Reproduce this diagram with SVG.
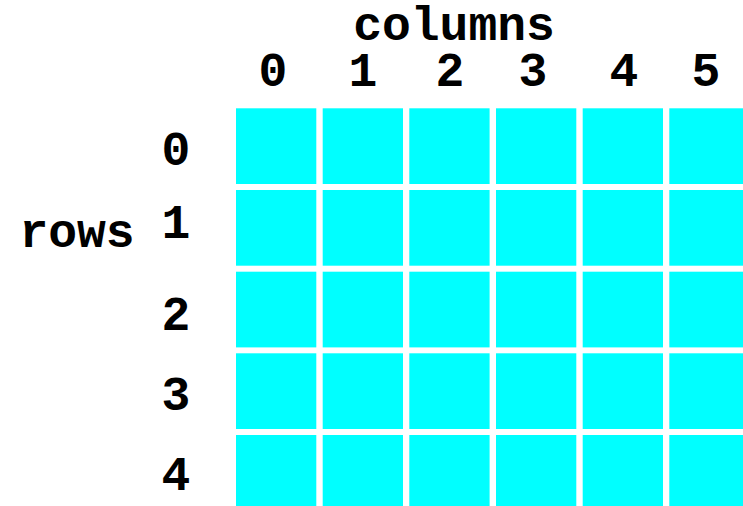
<svg xmlns="http://www.w3.org/2000/svg" width="743" height="506" viewBox="0 0 743 506">
<style>
.t{font-family:"Liberation Mono","Courier New",monospace;font-weight:bold;font-size:48px;fill:#000}
.c{fill:#00ffff}
</style>
<rect width="743" height="506" fill="#fff"/>
<g id="labels">
<text class="t" x="454" y="40" text-anchor="middle">columns</text>
<text class="t" x="273" y="86" text-anchor="middle">0</text>
<text class="t" x="363" y="86" text-anchor="middle">1</text>
<text class="t" x="450" y="86" text-anchor="middle">2</text>
<text class="t" x="533" y="86" text-anchor="middle">3</text>
<text class="t" x="624" y="86" text-anchor="middle">4</text>
<text class="t" x="706" y="86" text-anchor="middle">5</text>
<text class="t" x="77" y="247" text-anchor="middle">rows</text>
<text class="t" x="176" y="165" text-anchor="middle">0</text>
<text class="t" x="176" y="238" text-anchor="middle">1</text>
<text class="t" x="176" y="330" text-anchor="middle">2</text>
<text class="t" x="176" y="410" text-anchor="middle">3</text>
<text class="t" x="176" y="490" text-anchor="middle">4</text>
</g>
<g id="grid">
<g id="row0">
<rect class="c" x="236" y="108.3" width="80.3" height="75.7"/>
<rect class="c" x="322.7" y="108.3" width="80.3" height="75.7"/>
<rect class="c" x="409.3" y="108.3" width="80.3" height="75.7"/>
<rect class="c" x="496" y="108.3" width="80.3" height="75.7"/>
<rect class="c" x="582.7" y="108.3" width="80.3" height="75.7"/>
<rect class="c" x="669.3" y="108.3" width="80.3" height="75.7"/>
</g>
<g id="row1">
<rect class="c" x="236" y="190" width="80.3" height="75.7"/>
<rect class="c" x="322.7" y="190" width="80.3" height="75.7"/>
<rect class="c" x="409.3" y="190" width="80.3" height="75.7"/>
<rect class="c" x="496" y="190" width="80.3" height="75.7"/>
<rect class="c" x="582.7" y="190" width="80.3" height="75.7"/>
<rect class="c" x="669.3" y="190" width="80.3" height="75.7"/>
</g>
<g id="row2">
<rect class="c" x="236" y="271.7" width="80.3" height="75.7"/>
<rect class="c" x="322.7" y="271.7" width="80.3" height="75.7"/>
<rect class="c" x="409.3" y="271.7" width="80.3" height="75.7"/>
<rect class="c" x="496" y="271.7" width="80.3" height="75.7"/>
<rect class="c" x="582.7" y="271.7" width="80.3" height="75.7"/>
<rect class="c" x="669.3" y="271.7" width="80.3" height="75.7"/>
</g>
<g id="row3">
<rect class="c" x="236" y="353.3" width="80.3" height="75.7"/>
<rect class="c" x="322.7" y="353.3" width="80.3" height="75.7"/>
<rect class="c" x="409.3" y="353.3" width="80.3" height="75.7"/>
<rect class="c" x="496" y="353.3" width="80.3" height="75.7"/>
<rect class="c" x="582.7" y="353.3" width="80.3" height="75.7"/>
<rect class="c" x="669.3" y="353.3" width="80.3" height="75.7"/>
</g>
<g id="row4">
<rect class="c" x="236" y="435" width="80.3" height="75.7"/>
<rect class="c" x="322.7" y="435" width="80.3" height="75.7"/>
<rect class="c" x="409.3" y="435" width="80.3" height="75.7"/>
<rect class="c" x="496" y="435" width="80.3" height="75.7"/>
<rect class="c" x="582.7" y="435" width="80.3" height="75.7"/>
<rect class="c" x="669.3" y="435" width="80.3" height="75.7"/>
</g>
</g>
</svg>
